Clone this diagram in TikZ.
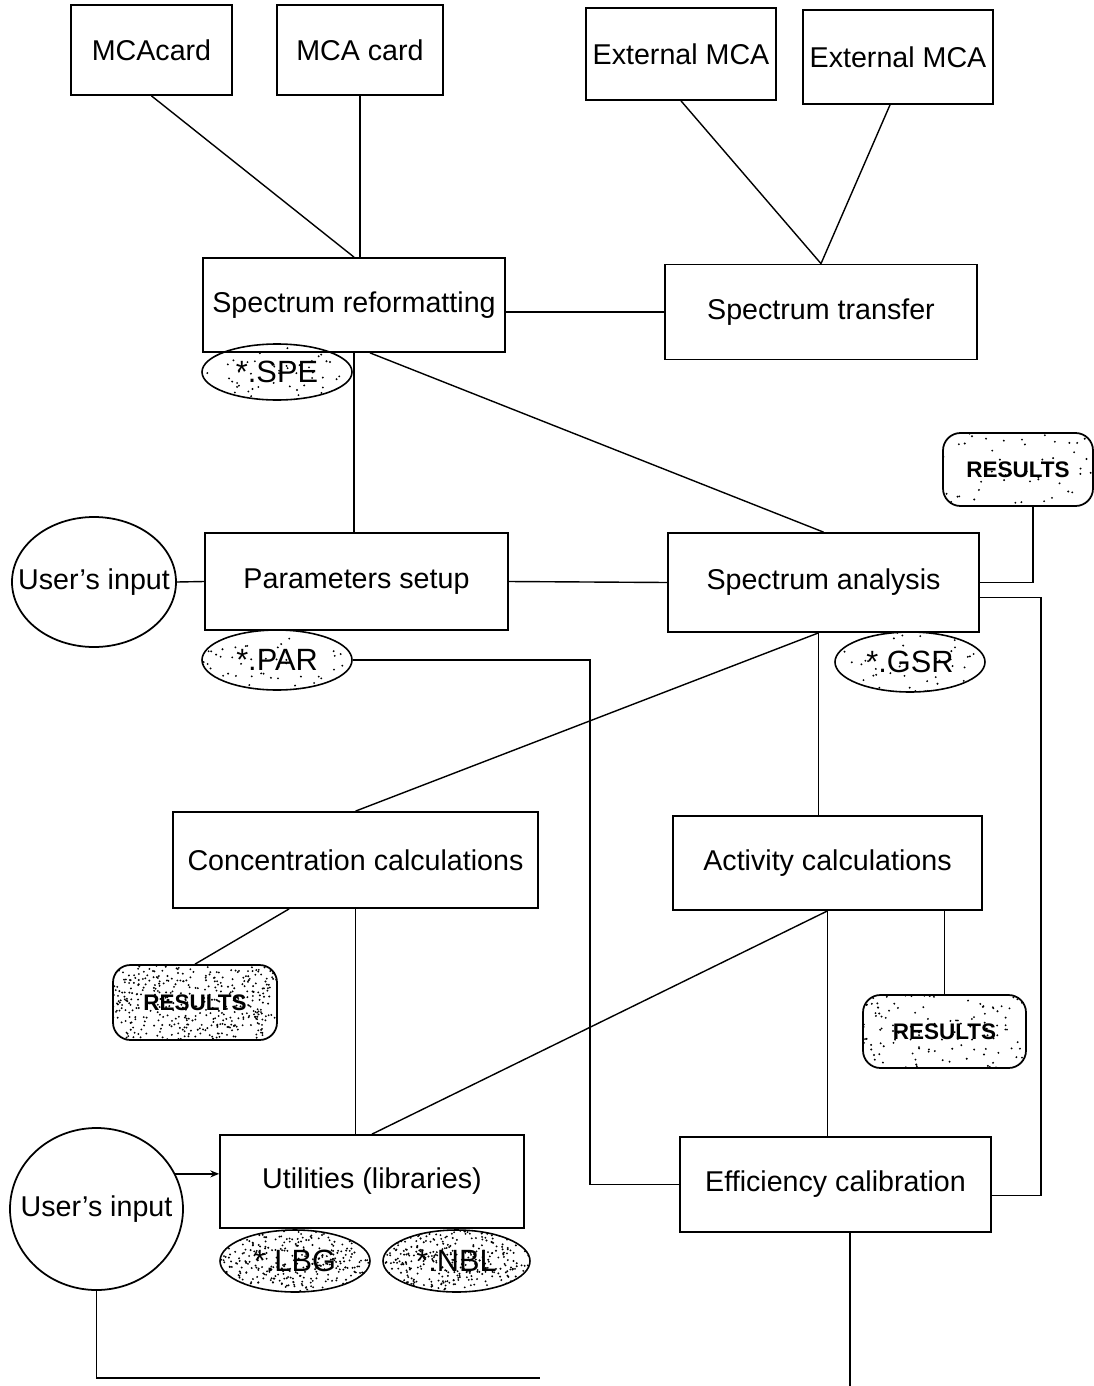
\documentclass[tikz,border=0pt]{standalone}
\usepackage{fontspec}
\setmainfont{Liberation Sans}
\usetikzlibrary{shapes.geometric,calc,arrows.meta}
\newcommand{\pxUnit}{0.02cm}
\newcommand{\boxFont}{\fontsize{16.3}{19}\selectfont}
\newcommand{\fileFont}{\fontsize{17.5}{20}\selectfont}
\newcommand{\resFont}{\fontsize{12.8}{16}\selectfont\bfseries}
\newcommand{\tight}[1]{\makebox[0pt]{#1}}

\begin{document}
\begin{tikzpicture}[x=\pxUnit, y=-\pxUnit, line width=0.8pt]
  \pgfmathsetseed{11}
  \tikzset{
    speckle/.style={path picture={
      \foreach \k in {1,...,#1}
        \fill let \p1=(path picture bounding box.south west),
                  \p2=(path picture bounding box.north east)
              in ({\x1+rnd*(\x2-\x1)},{\y1+rnd*(\y2-\y1)}) circle (0.6pt);
    }},
    procBox/.style 2 args={draw, line width=1pt, font=\boxFont, inner sep=0pt,
      minimum width=#1*\pxUnit, minimum height=#2*\pxUnit},
    fileEllipse/.style n args={3}{ellipse, draw, line width=0.9pt, font=\fileFont,
      inner sep=0pt, minimum width=#1*\pxUnit, minimum height=#2*\pxUnit, speckle=#3},
    resultBox/.style n args={3}{draw, line width=1pt, rounded corners=0.35cm,
      font=\resFont, inner sep=0pt, minimum width=#1*\pxUnit,
      minimum height=#2*\pxUnit, speckle=#3},
    userEllipse/.style 2 args={ellipse, draw, line width=1pt, font=\boxFont,
      inner sep=0pt, minimum width=#1*\pxUnit, minimum height=#2*\pxUnit}
  }
  \useasboundingbox (0,0) rectangle (1094,1386);

  % sources
  \node[procBox={161}{90}] (mcaA) at (151.5,50) {MCAcard};
  \node[procBox={166}{90}] (mcaB) at (360,50) {MCA card};
  \node[procBox={190}{92}] (extA) at (681,54) {External MCA};
  \node[procBox={190}{94}] (extB) at (898,57) {External MCA};

  % processing steps
  \node[procBox={302}{94}] (reform) at (354,305) {Spectrum reformatting};
  \node[procBox={312}{95}] (transfer) at (821,312) {Spectrum transfer};
  \node[procBox={303}{97}] (params) at (356.5,581.5) {Parameters setup};
  \node[procBox={311}{99}] (analysis) at (823.5,582.5) {Spectrum analysis};
  \node[procBox={365}{96}] (conc) at (355.5,860) {Concentration calculations};
  \node[procBox={309}{94}] (activ) at (827.5,863) {Activity calculations};
  \node[procBox={304}{93}] (util) at (372,1181.5) {Utilities (libraries)};
  \node[procBox={311}{95}] (effic) at (835.5,1184.5) {Efficiency calibration};

  % user input
  \node[userEllipse={164}{130}] (userA) at (94,582) {\tight{User's input}};
  \node[userEllipse={173}{162}] (userB) at (96.5,1209) {\tight{User's input}};

  % files and results
  \node[fileEllipse={150}{56}{60}] (spe) at (277,372) {\tight{*.SPE}};
  \node[fileEllipse={150}{60}{60}] (par) at (277,660) {\tight{*.PAR}};
  \node[fileEllipse={150}{60}{50}] (gsr) at (910,662) {\tight{*.GSR}};
  \node[fileEllipse={150}{62}{380}] (lbg) at (295,1261) {\tight{*.LBG}};
  \node[fileEllipse={147}{62}{380}] (nbl) at (456.5,1261) {\tight{*.NBL}};
  \node[resultBox={150}{73}{50}] (resA) at (1018,469.5) {RESULTS};
  \node[resultBox={164}{75}{420}] (resB) at (195,1002.5) {RESULTS};
  \node[resultBox={163}{73}{120}] (resC) at (944.5,1031.5) {RESULTS};

  \coordinate (cutA) at (540,1378);
  \coordinate (cutB) at (850,1386);

  % connections
  \draw (mcaA.south) -- (reform.north);
  \draw (mcaB.south) -- (mcaB.south |- reform.north);
  \draw (extA.south) -- (transfer.north);
  \draw ([xshift=-8*\pxUnit]extB.south) -- (transfer.north);
  \draw (reform.east |- transfer.west) -- (transfer.west);
  \draw (reform.south) -- (reform.south |- params.north);
  \draw ([xshift=16*\pxUnit]reform.south) -- (analysis.north);
  \draw (userA.east) -- (params.west);
  \draw (params.east) -- (analysis.west);
  \draw ([xshift=15*\pxUnit]resA.south) |- (analysis.east);
  \draw ([yshift=-15*\pxUnit]analysis.east) -- ++(61*\pxUnit,0)
    |- ([yshift=-11*\pxUnit]effic.east);
  \draw ([xshift=-5*\pxUnit]analysis.south) -- ([xshift=-5*\pxUnit]analysis.south |- activ.north);
  \draw ([xshift=-5*\pxUnit]analysis.south) -- (conc.north);
  \draw (par.east) -- ++(237*\pxUnit,0) |- (effic.west);
  \draw (conc.south) -- (conc.south |- util.north);
  \draw ([xshift=117*\pxUnit]conc.south west) -- (resB.north);
  \draw (activ.south) -- (util.north);
  \draw (activ.south) -- (activ.south |- effic.north);
  \draw (resC.north |- activ.south) -- (resC.north);
  \draw[-{Stealth[length=5pt,width=4pt]}] (userB.24) -- (userB.24 -| util.west);
  \draw (userB.south) |- (cutA);
  \draw (cutB |- effic.south) -- (cutB);
\end{tikzpicture}
\end{document}
